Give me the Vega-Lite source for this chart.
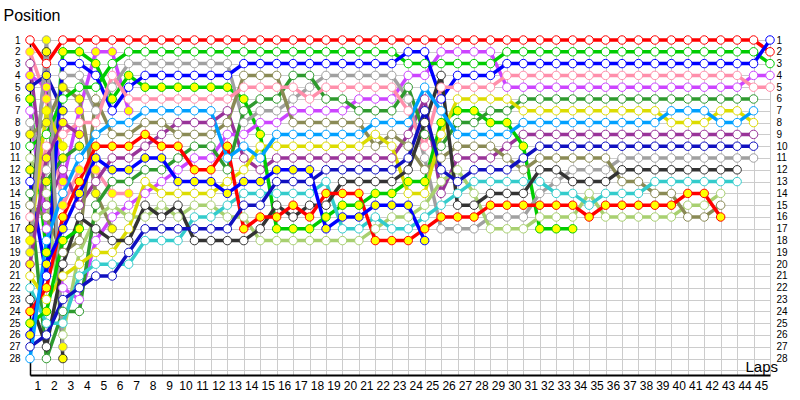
{
"$schema": "https://vega.github.io/schema/vega-lite/v6.json",
"width": 740, "height": 335,
"autosize": "none",
"padding": {"left": 30, "top": 40, "right": 30, "bottom": 25},
"background": "white",
"config": {"view": {"stroke": null}, "font": "Liberation Sans"},
"data": {"values": [
{"l":0,"p":1,"d":"RW"},{"l":0,"p":2,"d":"PY"},{"l":0,"p":3,"d":"UW"},{"l":0,"p":4,"d":"VY"},{"l":0,"p":5,"d":"NY"},{"l":0,"p":6,"d":"GY"},{"l":0,"p":7,"d":"VW"},{"l":0,"p":8,"d":"AW"},{"l":0,"p":9,"d":"OY"},{"l":0,"p":10,"d":"GW"},{"l":0,"p":11,"d":"LW"},{"l":0,"p":12,"d":"DY"},{"l":0,"p":13,"d":"BW"},{"l":0,"p":14,"d":"DW"},{"l":0,"p":15,"d":"OW"},{"l":0,"p":16,"d":"PW"},{"l":0,"p":17,"d":"KY"},{"l":0,"p":18,"d":"YY"},{"l":0,"p":19,"d":"AY"},{"l":0,"p":20,"d":"UY"},{"l":0,"p":21,"d":"YW"},{"l":0,"p":22,"d":"TW"},{"l":0,"p":23,"d":"KW"},{"l":0,"p":24,"d":"RY"},{"l":0,"p":25,"d":"SY"},{"l":0,"p":26,"d":"BY"},{"l":0,"p":27,"d":"NW"},{"l":0,"p":28,"d":"SW"},
{"l":1,"p":1,"d":"AY"},{"l":1,"p":2,"d":"KY"},{"l":1,"p":3,"d":"RW"},{"l":1,"p":4,"d":"NY"},{"l":1,"p":5,"d":"VY"},{"l":1,"p":6,"d":"PY"},{"l":1,"p":7,"d":"YY"},{"l":1,"p":8,"d":"OY"},{"l":1,"p":9,"d":"GW"},{"l":1,"p":10,"d":"PW"},{"l":1,"p":11,"d":"UY"},{"l":1,"p":12,"d":"AW"},{"l":1,"p":13,"d":"DY"},{"l":1,"p":14,"d":"LW"},{"l":1,"p":15,"d":"UW"},{"l":1,"p":16,"d":"OW"},{"l":1,"p":17,"d":"VW"},{"l":1,"p":18,"d":"SW"},{"l":1,"p":19,"d":"GY"},{"l":1,"p":20,"d":"BY"},{"l":1,"p":21,"d":"BW"},{"l":1,"p":22,"d":"RY"},{"l":1,"p":23,"d":"YW"},{"l":1,"p":24,"d":"SY"},{"l":1,"p":25,"d":"TW"},{"l":1,"p":26,"d":"NW"},{"l":1,"p":27,"d":"KW"},{"l":1,"p":28,"d":"DW"},
{"l":2,"p":1,"d":"RW"},{"l":2,"p":2,"d":"GY"},{"l":2,"p":3,"d":"BW"},{"l":2,"p":4,"d":"AW"},{"l":2,"p":5,"d":"OY"},{"l":2,"p":6,"d":"GW"},{"l":2,"p":7,"d":"NY"},{"l":2,"p":8,"d":"UY"},{"l":2,"p":9,"d":"PW"},{"l":2,"p":10,"d":"YY"},{"l":2,"p":11,"d":"DY"},{"l":2,"p":12,"d":"UW"},{"l":2,"p":13,"d":"VY"},{"l":2,"p":14,"d":"SW"},{"l":2,"p":15,"d":"PY"},{"l":2,"p":16,"d":"RY"},{"l":2,"p":17,"d":"BY"},{"l":2,"p":18,"d":"SY"},{"l":2,"p":19,"d":"OW"},{"l":2,"p":20,"d":"KW"},{"l":2,"p":21,"d":"YW"},{"l":2,"p":22,"d":"VW"},{"l":2,"p":23,"d":"NW"},{"l":2,"p":24,"d":"DW"},{"l":2,"p":25,"d":"TW"},{"l":2,"p":26,"d":"LW"},{"l":2,"p":27,"d":"AY"},{"l":2,"p":28,"d":"KY"},
{"l":3,"p":1,"d":"RW"},{"l":3,"p":2,"d":"GY"},{"l":3,"p":3,"d":"BW"},{"l":3,"p":4,"d":"AW"},{"l":3,"p":5,"d":"GW"},{"l":3,"p":6,"d":"OY"},{"l":3,"p":7,"d":"VY"},{"l":3,"p":8,"d":"PW"},{"l":3,"p":9,"d":"UY"},{"l":3,"p":10,"d":"DY"},{"l":3,"p":11,"d":"SW"},{"l":3,"p":12,"d":"PY"},{"l":3,"p":13,"d":"RY"},{"l":3,"p":14,"d":"BY"},{"l":3,"p":15,"d":"UW"},{"l":3,"p":16,"d":"KW"},{"l":3,"p":17,"d":"SY"},{"l":3,"p":18,"d":"OW"},{"l":3,"p":19,"d":"LW"},{"l":3,"p":20,"d":"YW"},{"l":3,"p":21,"d":"TW"},{"l":3,"p":22,"d":"NW"},{"l":3,"p":23,"d":"VW"},{"l":3,"p":24,"d":"DW"},
{"l":4,"p":1,"d":"RW"},{"l":4,"p":2,"d":"VY"},{"l":4,"p":3,"d":"GY"},{"l":4,"p":4,"d":"BW"},{"l":4,"p":5,"d":"GW"},{"l":4,"p":6,"d":"OW"},{"l":4,"p":7,"d":"AW"},{"l":4,"p":8,"d":"PW"},{"l":4,"p":9,"d":"SW"},{"l":4,"p":10,"d":"RY"},{"l":4,"p":11,"d":"BY"},{"l":4,"p":12,"d":"PY"},{"l":4,"p":13,"d":"UW"},{"l":4,"p":14,"d":"OY"},{"l":4,"p":15,"d":"DW"},{"l":4,"p":16,"d":"LW"},{"l":4,"p":17,"d":"KW"},{"l":4,"p":18,"d":"VW"},{"l":4,"p":19,"d":"YW"},{"l":4,"p":20,"d":"TW"},{"l":4,"p":21,"d":"NW"},
{"l":5,"p":1,"d":"RW"},{"l":5,"p":2,"d":"VY"},{"l":5,"p":3,"d":"GW"},{"l":5,"p":4,"d":"PW"},{"l":5,"p":5,"d":"AW"},{"l":5,"p":6,"d":"GY"},{"l":5,"p":7,"d":"BW"},{"l":5,"p":8,"d":"SW"},{"l":5,"p":9,"d":"OW"},{"l":5,"p":10,"d":"RY"},{"l":5,"p":11,"d":"UW"},{"l":5,"p":12,"d":"BY"},{"l":5,"p":13,"d":"DW"},{"l":5,"p":14,"d":"PY"},{"l":5,"p":15,"d":"LW"},{"l":5,"p":16,"d":"VW"},{"l":5,"p":17,"d":"OY"},{"l":5,"p":18,"d":"KW"},{"l":5,"p":19,"d":"YW"},{"l":5,"p":20,"d":"TW"},{"l":5,"p":21,"d":"NW"},
{"l":6,"p":1,"d":"RW"},{"l":6,"p":2,"d":"GW"},{"l":6,"p":3,"d":"AW"},{"l":6,"p":4,"d":"GY"},{"l":6,"p":5,"d":"BW"},{"l":6,"p":6,"d":"PW"},{"l":6,"p":7,"d":"VY"},{"l":6,"p":8,"d":"SW"},{"l":6,"p":9,"d":"OW"},{"l":6,"p":10,"d":"RY"},{"l":6,"p":11,"d":"UW"},{"l":6,"p":12,"d":"BY"},{"l":6,"p":13,"d":"DW"},{"l":6,"p":14,"d":"PY"},{"l":6,"p":15,"d":"VW"},{"l":6,"p":16,"d":"LW"},{"l":6,"p":17,"d":"YW"},{"l":6,"p":18,"d":"KW"},{"l":6,"p":19,"d":"NW"},{"l":6,"p":20,"d":"TW"},
{"l":7,"p":1,"d":"RW"},{"l":7,"p":2,"d":"GW"},{"l":7,"p":3,"d":"AW"},{"l":7,"p":4,"d":"BW"},{"l":7,"p":5,"d":"GY"},{"l":7,"p":6,"d":"PW"},{"l":7,"p":7,"d":"SW"},{"l":7,"p":8,"d":"OW"},{"l":7,"p":9,"d":"RY"},{"l":7,"p":10,"d":"UW"},{"l":7,"p":11,"d":"BY"},{"l":7,"p":12,"d":"DW"},{"l":7,"p":13,"d":"YW"},{"l":7,"p":14,"d":"VW"},{"l":7,"p":15,"d":"KW"},{"l":7,"p":16,"d":"LW"},{"l":7,"p":17,"d":"NW"},{"l":7,"p":18,"d":"TW"},
{"l":8,"p":1,"d":"RW"},{"l":8,"p":2,"d":"GW"},{"l":8,"p":3,"d":"AW"},{"l":8,"p":4,"d":"BW"},{"l":8,"p":5,"d":"GY"},{"l":8,"p":6,"d":"PW"},{"l":8,"p":7,"d":"SW"},{"l":8,"p":8,"d":"OW"},{"l":8,"p":9,"d":"UW"},{"l":8,"p":10,"d":"RY"},{"l":8,"p":11,"d":"BY"},{"l":8,"p":12,"d":"DW"},{"l":8,"p":13,"d":"VW"},{"l":8,"p":14,"d":"YW"},{"l":8,"p":15,"d":"LW"},{"l":8,"p":16,"d":"KW"},{"l":8,"p":17,"d":"NW"},{"l":8,"p":18,"d":"TW"},
{"l":9,"p":1,"d":"RW"},{"l":9,"p":2,"d":"GW"},{"l":9,"p":3,"d":"AW"},{"l":9,"p":4,"d":"BW"},{"l":9,"p":5,"d":"GY"},{"l":9,"p":6,"d":"PW"},{"l":9,"p":7,"d":"SW"},{"l":9,"p":8,"d":"UW"},{"l":9,"p":9,"d":"OW"},{"l":9,"p":10,"d":"RY"},{"l":9,"p":11,"d":"DW"},{"l":9,"p":12,"d":"VW"},{"l":9,"p":13,"d":"BY"},{"l":9,"p":14,"d":"YW"},{"l":9,"p":15,"d":"KW"},{"l":9,"p":16,"d":"LW"},{"l":9,"p":17,"d":"NW"},{"l":9,"p":18,"d":"TW"},
{"l":10,"p":1,"d":"RW"},{"l":10,"p":2,"d":"GW"},{"l":10,"p":3,"d":"AW"},{"l":10,"p":4,"d":"BW"},{"l":10,"p":5,"d":"GY"},{"l":10,"p":6,"d":"PW"},{"l":10,"p":7,"d":"SW"},{"l":10,"p":8,"d":"UW"},{"l":10,"p":9,"d":"OW"},{"l":10,"p":10,"d":"DW"},{"l":10,"p":11,"d":"VW"},{"l":10,"p":12,"d":"RY"},{"l":10,"p":13,"d":"BY"},{"l":10,"p":14,"d":"YW"},{"l":10,"p":15,"d":"LW"},{"l":10,"p":16,"d":"TW"},{"l":10,"p":17,"d":"NW"},{"l":10,"p":18,"d":"KW"},
{"l":11,"p":1,"d":"RW"},{"l":11,"p":2,"d":"GW"},{"l":11,"p":3,"d":"AW"},{"l":11,"p":4,"d":"BW"},{"l":11,"p":5,"d":"GY"},{"l":11,"p":6,"d":"PW"},{"l":11,"p":7,"d":"SW"},{"l":11,"p":8,"d":"UW"},{"l":11,"p":9,"d":"OW"},{"l":11,"p":10,"d":"DW"},{"l":11,"p":11,"d":"VW"},{"l":11,"p":12,"d":"RY"},{"l":11,"p":13,"d":"BY"},{"l":11,"p":14,"d":"YW"},{"l":11,"p":15,"d":"LW"},{"l":11,"p":16,"d":"TW"},{"l":11,"p":17,"d":"NW"},{"l":11,"p":18,"d":"KW"},
{"l":12,"p":1,"d":"RW"},{"l":12,"p":2,"d":"GW"},{"l":12,"p":3,"d":"AW"},{"l":12,"p":4,"d":"BW"},{"l":12,"p":5,"d":"GY"},{"l":12,"p":6,"d":"PW"},{"l":12,"p":7,"d":"UW"},{"l":12,"p":8,"d":"OW"},{"l":12,"p":9,"d":"VW"},{"l":12,"p":10,"d":"RY"},{"l":12,"p":11,"d":"SW"},{"l":12,"p":12,"d":"DW"},{"l":12,"p":13,"d":"YW"},{"l":12,"p":14,"d":"BY"},{"l":12,"p":15,"d":"TW"},{"l":12,"p":16,"d":"LW"},{"l":12,"p":17,"d":"NW"},{"l":12,"p":18,"d":"KW"},
{"l":13,"p":1,"d":"RW"},{"l":13,"p":2,"d":"GW"},{"l":13,"p":3,"d":"BW"},{"l":13,"p":4,"d":"OW"},{"l":13,"p":5,"d":"PW"},{"l":13,"p":6,"d":"GY"},{"l":13,"p":7,"d":"DW"},{"l":13,"p":8,"d":"AW"},{"l":13,"p":9,"d":"VW"},{"l":13,"p":10,"d":"SW"},{"l":13,"p":11,"d":"UW"},{"l":13,"p":12,"d":"YW"},{"l":13,"p":13,"d":"BY"},{"l":13,"p":14,"d":"TW"},{"l":13,"p":15,"d":"NW"},{"l":13,"p":16,"d":"LW"},{"l":13,"p":17,"d":"RY"},{"l":13,"p":18,"d":"KW"},
{"l":14,"p":1,"d":"RW"},{"l":14,"p":2,"d":"GW"},{"l":14,"p":3,"d":"BW"},{"l":14,"p":4,"d":"OW"},{"l":14,"p":5,"d":"PW"},{"l":14,"p":6,"d":"DW"},{"l":14,"p":7,"d":"AW"},{"l":14,"p":8,"d":"VW"},{"l":14,"p":9,"d":"GY"},{"l":14,"p":10,"d":"YW"},{"l":14,"p":11,"d":"SW"},{"l":14,"p":12,"d":"UW"},{"l":14,"p":13,"d":"BY"},{"l":14,"p":14,"d":"TW"},{"l":14,"p":15,"d":"NW"},{"l":14,"p":16,"d":"RY"},{"l":14,"p":17,"d":"KW"},{"l":14,"p":18,"d":"LW"},
{"l":15,"p":1,"d":"RW"},{"l":15,"p":2,"d":"GW"},{"l":15,"p":3,"d":"BW"},{"l":15,"p":4,"d":"OW"},{"l":15,"p":5,"d":"PW"},{"l":15,"p":6,"d":"DW"},{"l":15,"p":7,"d":"AW"},{"l":15,"p":8,"d":"VW"},{"l":15,"p":9,"d":"SW"},{"l":15,"p":10,"d":"YW"},{"l":15,"p":11,"d":"UW"},{"l":15,"p":12,"d":"BY"},{"l":15,"p":13,"d":"NW"},{"l":15,"p":14,"d":"TW"},{"l":15,"p":15,"d":"KW"},{"l":15,"p":16,"d":"RY"},{"l":15,"p":17,"d":"GY"},{"l":15,"p":18,"d":"LW"},
{"l":16,"p":1,"d":"RW"},{"l":16,"p":2,"d":"GW"},{"l":16,"p":3,"d":"BW"},{"l":16,"p":4,"d":"DW"},{"l":16,"p":5,"d":"PW"},{"l":16,"p":6,"d":"AW"},{"l":16,"p":7,"d":"VW"},{"l":16,"p":8,"d":"OW"},{"l":16,"p":9,"d":"SW"},{"l":16,"p":10,"d":"YW"},{"l":16,"p":11,"d":"UW"},{"l":16,"p":12,"d":"BY"},{"l":16,"p":13,"d":"NW"},{"l":16,"p":14,"d":"TW"},{"l":16,"p":15,"d":"RY"},{"l":16,"p":16,"d":"KW"},{"l":16,"p":17,"d":"GY"},{"l":16,"p":18,"d":"LW"},
{"l":17,"p":1,"d":"RW"},{"l":17,"p":2,"d":"GW"},{"l":17,"p":3,"d":"BW"},{"l":17,"p":4,"d":"DW"},{"l":17,"p":5,"d":"AW"},{"l":17,"p":6,"d":"PW"},{"l":17,"p":7,"d":"VW"},{"l":17,"p":8,"d":"OW"},{"l":17,"p":9,"d":"SW"},{"l":17,"p":10,"d":"YW"},{"l":17,"p":11,"d":"UW"},{"l":17,"p":12,"d":"BY"},{"l":17,"p":13,"d":"NW"},{"l":17,"p":14,"d":"TW"},{"l":17,"p":15,"d":"KW"},{"l":17,"p":16,"d":"RY"},{"l":17,"p":17,"d":"GY"},{"l":17,"p":18,"d":"LW"},
{"l":18,"p":1,"d":"RW"},{"l":18,"p":2,"d":"GW"},{"l":18,"p":3,"d":"BW"},{"l":18,"p":4,"d":"AW"},{"l":18,"p":5,"d":"PW"},{"l":18,"p":6,"d":"DW"},{"l":18,"p":7,"d":"VW"},{"l":18,"p":8,"d":"OW"},{"l":18,"p":9,"d":"SW"},{"l":18,"p":10,"d":"YW"},{"l":18,"p":11,"d":"UW"},{"l":18,"p":12,"d":"NW"},{"l":18,"p":13,"d":"TW"},{"l":18,"p":14,"d":"RY"},{"l":18,"p":15,"d":"KW"},{"l":18,"p":16,"d":"GY"},{"l":18,"p":17,"d":"BY"},{"l":18,"p":18,"d":"LW"},
{"l":19,"p":1,"d":"RW"},{"l":19,"p":2,"d":"GW"},{"l":19,"p":3,"d":"BW"},{"l":19,"p":4,"d":"AW"},{"l":19,"p":5,"d":"PW"},{"l":19,"p":6,"d":"DW"},{"l":19,"p":7,"d":"VW"},{"l":19,"p":8,"d":"OW"},{"l":19,"p":9,"d":"SW"},{"l":19,"p":10,"d":"YW"},{"l":19,"p":11,"d":"UW"},{"l":19,"p":12,"d":"NW"},{"l":19,"p":13,"d":"KW"},{"l":19,"p":14,"d":"RY"},{"l":19,"p":15,"d":"GY"},{"l":19,"p":16,"d":"BY"},{"l":19,"p":17,"d":"TW"},{"l":19,"p":18,"d":"LW"},
{"l":20,"p":1,"d":"RW"},{"l":20,"p":2,"d":"GW"},{"l":20,"p":3,"d":"BW"},{"l":20,"p":4,"d":"AW"},{"l":20,"p":5,"d":"PW"},{"l":20,"p":6,"d":"VW"},{"l":20,"p":7,"d":"DW"},{"l":20,"p":8,"d":"OW"},{"l":20,"p":9,"d":"SW"},{"l":20,"p":10,"d":"YW"},{"l":20,"p":11,"d":"UW"},{"l":20,"p":12,"d":"NW"},{"l":20,"p":13,"d":"KW"},{"l":20,"p":14,"d":"RY"},{"l":20,"p":15,"d":"GY"},{"l":20,"p":16,"d":"BY"},{"l":20,"p":17,"d":"TW"},{"l":20,"p":18,"d":"LW"},
{"l":21,"p":1,"d":"RW"},{"l":21,"p":2,"d":"GW"},{"l":21,"p":3,"d":"BW"},{"l":21,"p":4,"d":"AW"},{"l":21,"p":5,"d":"PW"},{"l":21,"p":6,"d":"VW"},{"l":21,"p":7,"d":"DW"},{"l":21,"p":8,"d":"SW"},{"l":21,"p":9,"d":"YW"},{"l":21,"p":10,"d":"OW"},{"l":21,"p":11,"d":"UW"},{"l":21,"p":12,"d":"NW"},{"l":21,"p":13,"d":"KW"},{"l":21,"p":14,"d":"GY"},{"l":21,"p":15,"d":"BY"},{"l":21,"p":16,"d":"TW"},{"l":21,"p":17,"d":"LW"},{"l":21,"p":18,"d":"RY"},
{"l":22,"p":1,"d":"RW"},{"l":22,"p":2,"d":"GW"},{"l":22,"p":3,"d":"BW"},{"l":22,"p":4,"d":"AW"},{"l":22,"p":5,"d":"PW"},{"l":22,"p":6,"d":"VW"},{"l":22,"p":7,"d":"DW"},{"l":22,"p":8,"d":"SW"},{"l":22,"p":9,"d":"OW"},{"l":22,"p":10,"d":"YW"},{"l":22,"p":11,"d":"UW"},{"l":22,"p":12,"d":"NW"},{"l":22,"p":13,"d":"KW"},{"l":22,"p":14,"d":"GY"},{"l":22,"p":15,"d":"BY"},{"l":22,"p":16,"d":"LW"},{"l":22,"p":17,"d":"TW"},{"l":22,"p":18,"d":"RY"},
{"l":23,"p":1,"d":"RW"},{"l":23,"p":2,"d":"BW"},{"l":23,"p":3,"d":"GW"},{"l":23,"p":4,"d":"VW"},{"l":23,"p":5,"d":"DW"},{"l":23,"p":6,"d":"AW"},{"l":23,"p":7,"d":"PW"},{"l":23,"p":8,"d":"SW"},{"l":23,"p":9,"d":"UW"},{"l":23,"p":10,"d":"OW"},{"l":23,"p":11,"d":"NW"},{"l":23,"p":12,"d":"KW"},{"l":23,"p":13,"d":"GY"},{"l":23,"p":14,"d":"YW"},{"l":23,"p":15,"d":"BY"},{"l":23,"p":16,"d":"LW"},{"l":23,"p":17,"d":"TW"},{"l":23,"p":18,"d":"RY"},
{"l":24,"p":1,"d":"RW"},{"l":24,"p":2,"d":"BW"},{"l":24,"p":3,"d":"GW"},{"l":24,"p":4,"d":"VW"},{"l":24,"p":5,"d":"SW"},{"l":24,"p":6,"d":"UW"},{"l":24,"p":7,"d":"NW"},{"l":24,"p":8,"d":"KW"},{"l":24,"p":9,"d":"DW"},{"l":24,"p":10,"d":"PW"},{"l":24,"p":11,"d":"AW"},{"l":24,"p":12,"d":"OW"},{"l":24,"p":13,"d":"GY"},{"l":24,"p":14,"d":"YW"},{"l":24,"p":15,"d":"LW"},{"l":24,"p":16,"d":"TW"},{"l":24,"p":17,"d":"RY"},{"l":24,"p":18,"d":"BY"},
{"l":25,"p":1,"d":"RW"},{"l":25,"p":2,"d":"VW"},{"l":25,"p":3,"d":"GW"},{"l":25,"p":4,"d":"KW"},{"l":25,"p":5,"d":"PW"},{"l":25,"p":6,"d":"BW"},{"l":25,"p":7,"d":"SW"},{"l":25,"p":8,"d":"GY"},{"l":25,"p":9,"d":"YW"},{"l":25,"p":10,"d":"DW"},{"l":25,"p":11,"d":"OW"},{"l":25,"p":12,"d":"NW"},{"l":25,"p":13,"d":"LW"},{"l":25,"p":14,"d":"UW"},{"l":25,"p":15,"d":"TW"},{"l":25,"p":16,"d":"RY"},{"l":25,"p":17,"d":"AW"},
{"l":26,"p":1,"d":"RW"},{"l":26,"p":2,"d":"VW"},{"l":26,"p":3,"d":"GW"},{"l":26,"p":4,"d":"BW"},{"l":26,"p":5,"d":"PW"},{"l":26,"p":6,"d":"YW"},{"l":26,"p":7,"d":"GY"},{"l":26,"p":8,"d":"DW"},{"l":26,"p":9,"d":"SW"},{"l":26,"p":10,"d":"OW"},{"l":26,"p":11,"d":"UW"},{"l":26,"p":12,"d":"LW"},{"l":26,"p":13,"d":"NW"},{"l":26,"p":14,"d":"TW"},{"l":26,"p":15,"d":"KW"},{"l":26,"p":16,"d":"RY"},{"l":26,"p":17,"d":"AW"},
{"l":27,"p":1,"d":"RW"},{"l":27,"p":2,"d":"VW"},{"l":27,"p":3,"d":"GW"},{"l":27,"p":4,"d":"BW"},{"l":27,"p":5,"d":"PW"},{"l":27,"p":6,"d":"YW"},{"l":27,"p":7,"d":"GY"},{"l":27,"p":8,"d":"DW"},{"l":27,"p":9,"d":"SW"},{"l":27,"p":10,"d":"OW"},{"l":27,"p":11,"d":"UW"},{"l":27,"p":12,"d":"NW"},{"l":27,"p":13,"d":"TW"},{"l":27,"p":14,"d":"LW"},{"l":27,"p":15,"d":"KW"},{"l":27,"p":16,"d":"RY"},{"l":27,"p":17,"d":"AW"},
{"l":28,"p":1,"d":"RW"},{"l":28,"p":2,"d":"VW"},{"l":28,"p":3,"d":"GW"},{"l":28,"p":4,"d":"BW"},{"l":28,"p":5,"d":"PW"},{"l":28,"p":6,"d":"YW"},{"l":28,"p":7,"d":"DW"},{"l":28,"p":8,"d":"GY"},{"l":28,"p":9,"d":"SW"},{"l":28,"p":10,"d":"OW"},{"l":28,"p":11,"d":"UW"},{"l":28,"p":12,"d":"NW"},{"l":28,"p":13,"d":"TW"},{"l":28,"p":14,"d":"KW"},{"l":28,"p":15,"d":"RY"},{"l":28,"p":16,"d":"AW"},{"l":28,"p":17,"d":"LW"},
{"l":29,"p":1,"d":"RW"},{"l":29,"p":2,"d":"GW"},{"l":29,"p":3,"d":"BW"},{"l":29,"p":4,"d":"PW"},{"l":29,"p":5,"d":"VW"},{"l":29,"p":6,"d":"YW"},{"l":29,"p":7,"d":"DW"},{"l":29,"p":8,"d":"GY"},{"l":29,"p":9,"d":"SW"},{"l":29,"p":10,"d":"UW"},{"l":29,"p":11,"d":"OW"},{"l":29,"p":12,"d":"NW"},{"l":29,"p":13,"d":"TW"},{"l":29,"p":14,"d":"KW"},{"l":29,"p":15,"d":"RY"},{"l":29,"p":16,"d":"AW"},{"l":29,"p":17,"d":"LW"},
{"l":30,"p":1,"d":"RW"},{"l":30,"p":2,"d":"GW"},{"l":30,"p":3,"d":"BW"},{"l":30,"p":4,"d":"PW"},{"l":30,"p":5,"d":"VW"},{"l":30,"p":6,"d":"DW"},{"l":30,"p":7,"d":"YW"},{"l":30,"p":8,"d":"SW"},{"l":30,"p":9,"d":"UW"},{"l":30,"p":10,"d":"GY"},{"l":30,"p":11,"d":"NW"},{"l":30,"p":12,"d":"OW"},{"l":30,"p":13,"d":"TW"},{"l":30,"p":14,"d":"KW"},{"l":30,"p":15,"d":"RY"},{"l":30,"p":16,"d":"AW"},{"l":30,"p":17,"d":"LW"},
{"l":31,"p":1,"d":"RW"},{"l":31,"p":2,"d":"GW"},{"l":31,"p":3,"d":"BW"},{"l":31,"p":4,"d":"PW"},{"l":31,"p":5,"d":"VW"},{"l":31,"p":6,"d":"DW"},{"l":31,"p":7,"d":"YW"},{"l":31,"p":8,"d":"SW"},{"l":31,"p":9,"d":"UW"},{"l":31,"p":10,"d":"NW"},{"l":31,"p":11,"d":"OW"},{"l":31,"p":12,"d":"KW"},{"l":31,"p":13,"d":"TW"},{"l":31,"p":14,"d":"AW"},{"l":31,"p":15,"d":"RY"},{"l":31,"p":16,"d":"LW"},{"l":31,"p":17,"d":"GY"},
{"l":32,"p":1,"d":"RW"},{"l":32,"p":2,"d":"GW"},{"l":32,"p":3,"d":"BW"},{"l":32,"p":4,"d":"PW"},{"l":32,"p":5,"d":"VW"},{"l":32,"p":6,"d":"DW"},{"l":32,"p":7,"d":"YW"},{"l":32,"p":8,"d":"SW"},{"l":32,"p":9,"d":"UW"},{"l":32,"p":10,"d":"NW"},{"l":32,"p":11,"d":"OW"},{"l":32,"p":12,"d":"KW"},{"l":32,"p":13,"d":"AW"},{"l":32,"p":14,"d":"TW"},{"l":32,"p":15,"d":"RY"},{"l":32,"p":16,"d":"LW"},{"l":32,"p":17,"d":"GY"},
{"l":33,"p":1,"d":"RW"},{"l":33,"p":2,"d":"GW"},{"l":33,"p":3,"d":"BW"},{"l":33,"p":4,"d":"PW"},{"l":33,"p":5,"d":"VW"},{"l":33,"p":6,"d":"DW"},{"l":33,"p":7,"d":"YW"},{"l":33,"p":8,"d":"SW"},{"l":33,"p":9,"d":"UW"},{"l":33,"p":10,"d":"NW"},{"l":33,"p":11,"d":"OW"},{"l":33,"p":12,"d":"AW"},{"l":33,"p":13,"d":"KW"},{"l":33,"p":14,"d":"TW"},{"l":33,"p":15,"d":"RY"},{"l":33,"p":16,"d":"LW"},{"l":33,"p":17,"d":"GY"},
{"l":34,"p":1,"d":"RW"},{"l":34,"p":2,"d":"GW"},{"l":34,"p":3,"d":"BW"},{"l":34,"p":4,"d":"PW"},{"l":34,"p":5,"d":"VW"},{"l":34,"p":6,"d":"DW"},{"l":34,"p":7,"d":"YW"},{"l":34,"p":8,"d":"SW"},{"l":34,"p":9,"d":"UW"},{"l":34,"p":10,"d":"NW"},{"l":34,"p":11,"d":"OW"},{"l":34,"p":12,"d":"AW"},{"l":34,"p":13,"d":"KW"},{"l":34,"p":14,"d":"LW"},{"l":34,"p":15,"d":"TW"},{"l":34,"p":16,"d":"RY"},
{"l":35,"p":1,"d":"RW"},{"l":35,"p":2,"d":"GW"},{"l":35,"p":3,"d":"BW"},{"l":35,"p":4,"d":"PW"},{"l":35,"p":5,"d":"VW"},{"l":35,"p":6,"d":"DW"},{"l":35,"p":7,"d":"YW"},{"l":35,"p":8,"d":"SW"},{"l":35,"p":9,"d":"UW"},{"l":35,"p":10,"d":"NW"},{"l":35,"p":11,"d":"OW"},{"l":35,"p":12,"d":"AW"},{"l":35,"p":13,"d":"KW"},{"l":35,"p":14,"d":"TW"},{"l":35,"p":15,"d":"RY"},{"l":35,"p":16,"d":"LW"},
{"l":36,"p":1,"d":"RW"},{"l":36,"p":2,"d":"GW"},{"l":36,"p":3,"d":"BW"},{"l":36,"p":4,"d":"PW"},{"l":36,"p":5,"d":"VW"},{"l":36,"p":6,"d":"DW"},{"l":36,"p":7,"d":"YW"},{"l":36,"p":8,"d":"SW"},{"l":36,"p":9,"d":"UW"},{"l":36,"p":10,"d":"NW"},{"l":36,"p":11,"d":"AW"},{"l":36,"p":12,"d":"KW"},{"l":36,"p":13,"d":"OW"},{"l":36,"p":14,"d":"TW"},{"l":36,"p":15,"d":"RY"},{"l":36,"p":16,"d":"LW"},
{"l":37,"p":1,"d":"RW"},{"l":37,"p":2,"d":"GW"},{"l":37,"p":3,"d":"BW"},{"l":37,"p":4,"d":"PW"},{"l":37,"p":5,"d":"VW"},{"l":37,"p":6,"d":"DW"},{"l":37,"p":7,"d":"YW"},{"l":37,"p":8,"d":"SW"},{"l":37,"p":9,"d":"UW"},{"l":37,"p":10,"d":"NW"},{"l":37,"p":11,"d":"AW"},{"l":37,"p":12,"d":"KW"},{"l":37,"p":13,"d":"OW"},{"l":37,"p":14,"d":"TW"},{"l":37,"p":15,"d":"RY"},{"l":37,"p":16,"d":"LW"},
{"l":38,"p":1,"d":"RW"},{"l":38,"p":2,"d":"GW"},{"l":38,"p":3,"d":"BW"},{"l":38,"p":4,"d":"PW"},{"l":38,"p":5,"d":"VW"},{"l":38,"p":6,"d":"DW"},{"l":38,"p":7,"d":"YW"},{"l":38,"p":8,"d":"SW"},{"l":38,"p":9,"d":"UW"},{"l":38,"p":10,"d":"NW"},{"l":38,"p":11,"d":"AW"},{"l":38,"p":12,"d":"KW"},{"l":38,"p":13,"d":"TW"},{"l":38,"p":14,"d":"OW"},{"l":38,"p":15,"d":"RY"},{"l":38,"p":16,"d":"LW"},
{"l":39,"p":1,"d":"RW"},{"l":39,"p":2,"d":"GW"},{"l":39,"p":3,"d":"BW"},{"l":39,"p":4,"d":"PW"},{"l":39,"p":5,"d":"VW"},{"l":39,"p":6,"d":"DW"},{"l":39,"p":7,"d":"SW"},{"l":39,"p":8,"d":"YW"},{"l":39,"p":9,"d":"UW"},{"l":39,"p":10,"d":"NW"},{"l":39,"p":11,"d":"AW"},{"l":39,"p":12,"d":"KW"},{"l":39,"p":13,"d":"TW"},{"l":39,"p":14,"d":"OW"},{"l":39,"p":15,"d":"RY"},{"l":39,"p":16,"d":"LW"},
{"l":40,"p":1,"d":"RW"},{"l":40,"p":2,"d":"GW"},{"l":40,"p":3,"d":"BW"},{"l":40,"p":4,"d":"PW"},{"l":40,"p":5,"d":"VW"},{"l":40,"p":6,"d":"DW"},{"l":40,"p":7,"d":"SW"},{"l":40,"p":8,"d":"YW"},{"l":40,"p":9,"d":"UW"},{"l":40,"p":10,"d":"NW"},{"l":40,"p":11,"d":"AW"},{"l":40,"p":12,"d":"KW"},{"l":40,"p":13,"d":"TW"},{"l":40,"p":14,"d":"RY"},{"l":40,"p":15,"d":"LW"},{"l":40,"p":16,"d":"OW"},
{"l":41,"p":1,"d":"RW"},{"l":41,"p":2,"d":"GW"},{"l":41,"p":3,"d":"BW"},{"l":41,"p":4,"d":"PW"},{"l":41,"p":5,"d":"VW"},{"l":41,"p":6,"d":"DW"},{"l":41,"p":7,"d":"SW"},{"l":41,"p":8,"d":"YW"},{"l":41,"p":9,"d":"UW"},{"l":41,"p":10,"d":"NW"},{"l":41,"p":11,"d":"AW"},{"l":41,"p":12,"d":"KW"},{"l":41,"p":13,"d":"TW"},{"l":41,"p":14,"d":"RY"},{"l":41,"p":15,"d":"LW"},{"l":41,"p":16,"d":"OW"},
{"l":42,"p":1,"d":"RW"},{"l":42,"p":2,"d":"GW"},{"l":42,"p":3,"d":"BW"},{"l":42,"p":4,"d":"PW"},{"l":42,"p":5,"d":"VW"},{"l":42,"p":6,"d":"DW"},{"l":42,"p":7,"d":"YW"},{"l":42,"p":8,"d":"SW"},{"l":42,"p":9,"d":"UW"},{"l":42,"p":10,"d":"NW"},{"l":42,"p":11,"d":"AW"},{"l":42,"p":12,"d":"KW"},{"l":42,"p":13,"d":"TW"},{"l":42,"p":14,"d":"LW"},{"l":42,"p":15,"d":"OW"},{"l":42,"p":16,"d":"RY"},
{"l":43,"p":1,"d":"RW"},{"l":43,"p":2,"d":"GW"},{"l":43,"p":3,"d":"BW"},{"l":43,"p":4,"d":"PW"},{"l":43,"p":5,"d":"VW"},{"l":43,"p":6,"d":"DW"},{"l":43,"p":7,"d":"YW"},{"l":43,"p":8,"d":"SW"},{"l":43,"p":9,"d":"UW"},{"l":43,"p":10,"d":"NW"},{"l":43,"p":11,"d":"AW"},{"l":43,"p":12,"d":"KW"},{"l":43,"p":13,"d":"TW"},
{"l":44,"p":1,"d":"RW"},{"l":44,"p":2,"d":"GW"},{"l":44,"p":3,"d":"BW"},{"l":44,"p":4,"d":"VW"},{"l":44,"p":5,"d":"PW"},{"l":44,"p":6,"d":"DW"},{"l":44,"p":7,"d":"SW"},{"l":44,"p":8,"d":"YW"},{"l":44,"p":9,"d":"UW"},{"l":44,"p":10,"d":"NW"},{"l":44,"p":11,"d":"AW"},
{"l":45,"p":1,"d":"BW"},{"l":45,"p":2,"d":"RW"},{"l":45,"p":3,"d":"GW"},{"l":45,"p":4,"d":"VW"},{"l":45,"p":5,"d":"PW"}
]},
"encoding": {
  "x": {"field": "l", "type": "quantitative",
        "scale": {"domain": [0, 45], "nice": false, "zero": false},
        "axis": {"values": [0,1,2,3,4,5,6,7,8,9,10,11,12,13,14,15,16,17,18,19,20,21,22,23,24,25,26,27,28,29,30,31,32,33,34,35,36,37,38,39,40,41,42,43,44,45],
                 "grid": true, "gridColor": "#cccccc", "gridWidth": 1, "tickSize": 0,
                 "labelExpr": "datum.value == 0 ? '' : datum.label", "labelOffset": -9,
                 "labelFontSize": 12, "labelPadding": 5, "labelColor": "#000000", "labelOverlap": false, "labelBound": false, "labelFlush": false,
                 "domainColor": "#000000", "domainWidth": 2,
                 "title": "Laps", "titleX": 715, "titleY": -4, "titleAlign": "left", "titleBaseline": "alphabetic",
                 "titleFontSize": 15, "titleFontWeight": "normal", "titleColor": "#000000"}}
},
"layer": [
{"mark": {"type": "line", "strokeWidth": 3.5, "clip": false},
 "encoding": {
  "y": {"field": "p", "type": "quantitative",
        "scale": {"domain": [1, 29.39], "reverse": true, "nice": false, "zero": false},
        "axis": {"values": [1,2,3,4,5,6,7,8,9,10,11,12,13,14,15,16,17,18,19,20,21,22,23,24,25,26,27,28,29],
                 "grid": true, "gridColor": "#cccccc", "gridWidth": 1, "tickSize": 0,
                 "labelExpr": "datum.value > 28 ? '' : datum.label",
                 "labelFontSize": 10, "labelPadding": 10, "labelColor": "#000000", "labelOverlap": false, "labelBound": false, "labelFlush": false,
                 "domainColor": "#000000", "domainWidth": 1.5,
                 "title": "Position", "titleAngle": 0, "titleX": -27, "titleY": -20, "titleAlign": "left", "titleBaseline": "alphabetic",
                 "titleFontSize": 16, "titleFontWeight": "normal", "titleColor": "#000000"}},
  "color": {"field": "d", "type": "nominal", "legend": null,
            "scale": {"domain": ["RW","RY","GW","GY","BW","BY","AW","AY","PW","PY","VW","VY","DW","DY","YW","YY","SW","SY","UW","UY","NW","NY","OW","OY","KW","KY","TW","LW"],
                      "range": ["#ff0000","#ff0000","#00cc00","#00cc00","#0000ff","#0000ff","#a0a0a0","#a0a0a0","#ff8fab","#ff8fab","#cc44ff","#cc44ff","#2e9a2e","#2e9a2e","#dcdc00","#dcdc00","#00a0ff","#00cc00","#993399","#993399","#1010c0","#1010c0","#8a8a55","#8a8a55","#333333","#333333","#33cccc","#a8d070"]}},
  "order": {"field": "l", "type": "quantitative"}
 }},
{"mark": {"type": "point", "shape": "circle", "filled": true, "size": 72, "strokeWidth": 1, "opacity": 1, "clip": false},
 "encoding": {
  "y": {"field": "p", "type": "quantitative",
        "axis": {"orient": "right", "values": [1,2,3,4,5,6,7,8,9,10,11,12,13,14,15,16,17,18,19,20,21,22,23,24,25,26,27,28],
                 "grid": false, "domain": false, "tickSize": 0, "labelFontSize": 10, "labelPadding": 6, "labelColor": "#000000",
                 "labelOverlap": false, "labelBound": false, "labelFlush": false, "title": null}},
  "fill": {"field": "d", "type": "nominal", "legend": null,
           "scale": {"domain": ["RW","RY","GW","GY","BW","BY","AW","AY","PW","PY","VW","VY","DW","DY","YW","YY","SW","SY","UW","UY","NW","NY","OW","OY","KW","KY","TW","LW"],
                     "range": ["#ffffff","#ffff00","#ffffff","#ffff00","#ffffff","#ffff00","#ffffff","#ffff00","#ffffff","#ffff00","#ffffff","#ffff00","#ffffff","#ffff00","#ffffff","#ffff00","#ffffff","#ffff00","#ffffff","#ffff00","#ffffff","#ffff00","#ffffff","#ffff00","#ffffff","#ffff00","#ffffff","#ffffff"]}},
  "stroke": {"field": "d", "type": "nominal", "legend": null,
             "scale": {"domain": ["RW","RY","GW","GY","BW","BY","AW","AY","PW","PY","VW","VY","DW","DY","YW","YY","SW","SY","UW","UY","NW","NY","OW","OY","KW","KY","TW","LW"],
                       "range": ["#ff0000","#ff0000","#00cc00","#00cc00","#0000ff","#0000ff","#a0a0a0","#a0a0a0","#ff8fab","#ff8fab","#cc44ff","#cc44ff","#2e9a2e","#2e9a2e","#dcdc00","#dcdc00","#00a0ff","#00cc00","#993399","#993399","#1010c0","#1010c0","#8a8a55","#8a8a55","#333333","#333333","#33cccc","#a8d070"]}}
 }}
],
"resolve": {"axis": {"y": "independent"}}
}
